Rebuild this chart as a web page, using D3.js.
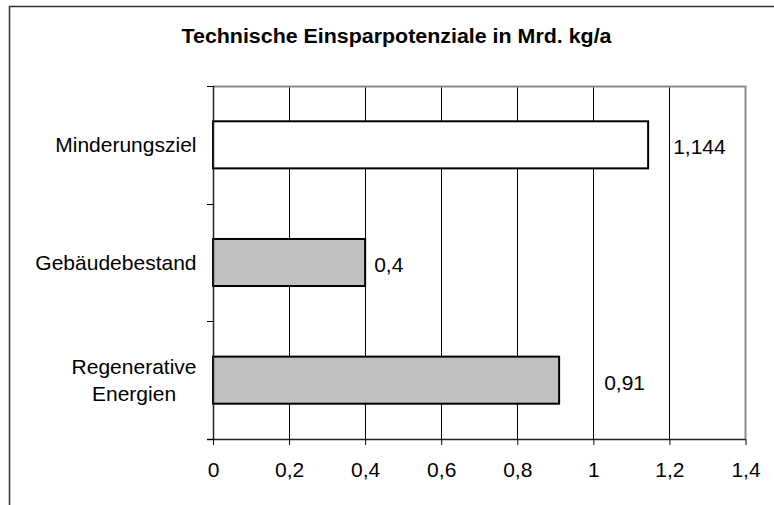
<!DOCTYPE html>
<html>
<head>
<meta charset="utf-8">
<script src="https://cdn.jsdelivr.net/npm/d3@7"></script>
<style>
html,body{margin:0;padding:0;background:#fff;}
svg{display:block;font-family:"Liberation Sans",Arial,sans-serif;}
</style>
</head>
<body>
<svg id="chart" width="774" height="505"></svg>
<script>
const title = "Technische Einsparpotenziale in Mrd. kg/a";
const categories = ["Minderungsziel", "Gebäudebestand", "Regenerative Energien"];
const categoryLines = [["Minderungsziel"], ["Gebäudebestand"], ["Regenerative", "Energien"]];
const values = [1.144, 0.4, 0.91];
const valueLabels = ["1,144", "0,4", "0,91"];
const xTicks = [0, 0.2, 0.4, 0.6, 0.8, 1, 1.2, 1.4];
const xTickLabels = ["0", "0,2", "0,4", "0,6", "0,8", "1", "1,2", "1,4"];
const barFills = ["#ffffff", "#c0c0c0", "#c0c0c0"];

const svg = d3.select("#chart");
const plot = {left: 213, top: 86, right: 745.5, bottom: 439};
const fontSize = 21;

// outer frame
svg.append("rect").attr("x", 9.5).attr("y", 6.5).attr("width", 800).attr("height", 600)
  .attr("fill", "none").attr("stroke", "#333").attr("stroke-width", 1.5);

svg.append("text").attr("x", 396.5).attr("y", 43).attr("text-anchor", "middle")
  .attr("font-size", 20).attr("font-weight", "bold").attr("fill", "#000")
  .attr("textLength", 430).attr("lengthAdjust", "spacingAndGlyphs")
  .text(title);

const x = d3.scaleLinear().domain([0, 1.4]).range([plot.left, plot.right]);
const y = d3.scaleBand().domain(categories).range([plot.top, plot.bottom]).padding(0);

// gridlines
svg.append("g").selectAll("line").data(xTicks.filter(t => t > 0 && t < 1.4)).join("line")
  .attr("x1", d => Math.round(x(d)) + 0.5).attr("x2", d => Math.round(x(d)) + 0.5)
  .attr("y1", plot.top).attr("y2", plot.bottom)
  .attr("stroke", "#000").attr("stroke-width", 1);

// plot border top/right
svg.append("path")
  .attr("d", `M${plot.left},${plot.top + 0.5}H${plot.right}V${plot.bottom}`)
  .attr("fill", "none").attr("stroke", "#8c8c8c").attr("stroke-width", 2);

// bars
const barH = y.bandwidth() * 0.4;
svg.append("g").selectAll("rect").data(categories).join("rect")
  .attr("x", x(0))
  .attr("y", d => y(d) + (y.bandwidth() - barH) / 2)
  .attr("width", (d, i) => x(values[i]) - x(0))
  .attr("height", barH)
  .attr("fill", (d, i) => barFills[i])
  .attr("stroke", "#000").attr("stroke-width", 2);

// x axis
const xAxis = d3.axisBottom(x).tickValues(xTicks)
  .tickFormat((d, i) => xTickLabels[i]).tickSize(6).tickPadding(17).tickSizeOuter(0);
const gx = svg.append("g").attr("transform", `translate(0,${plot.bottom})`).call(xAxis);
gx.select(".domain").remove();
gx.selectAll(".tick line").attr("stroke", "#000");
gx.selectAll("text").attr("font-size", fontSize).attr("fill", "#000")
  .attr("font-family", "'Liberation Sans',Arial,sans-serif");
svg.append("line").attr("x1", plot.left - 6).attr("x2", plot.right)
  .attr("y1", plot.bottom + 0.5).attr("y2", plot.bottom + 0.5)
  .attr("stroke", "#222").attr("stroke-width", 1.5);

// y axis with ticks at category boundaries
const boundaries = categories.map(c => y(c)).concat([plot.bottom]);
svg.append("line").attr("x1", plot.left + 0.5).attr("x2", plot.left + 0.5)
  .attr("y1", plot.top).attr("y2", plot.bottom)
  .attr("stroke", "#222").attr("stroke-width", 1.5);
svg.append("g").selectAll("line").data(boundaries).join("line")
  .attr("x1", plot.left - 6).attr("x2", plot.left)
  .attr("y1", d => Math.round(d) + 0.5).attr("y2", d => Math.round(d) + 0.5)
  .attr("stroke", "#000");

// category labels: block right-aligned, lines centered within block
const labelRight = 196.5;
const lineGap = 27;
categories.forEach((c, i) => {
  const lines = categoryLines[i];
  const cy = y(c) + y.bandwidth() / 2;
  const g = svg.append("g");
  const texts = lines.map((ln, j) => g.append("text")
    .attr("font-size", fontSize).attr("fill", "#000")
    .attr("dy", "0.35em")
    .attr("y", cy + (j - (lines.length - 1) / 2) * lineGap)
    .text(ln));
  const maxW = d3.max(texts, t => t.node().getComputedTextLength());
  texts.forEach(t => t.attr("text-anchor", "middle").attr("x", labelRight - maxW / 2));
});

// value labels
const labelDx = [25, 9, 45];
svg.append("g").selectAll("text").data(categories).join("text")
  .attr("x", (d, i) => x(values[i]) + labelDx[i])
  .attr("y", d => y(d) + y.bandwidth() / 2 + 2)
  .attr("dy", "0.35em")
  .attr("font-size", fontSize).attr("fill", "#000")
  .text((d, i) => valueLabels[i]);
</script>
</body>
</html>
